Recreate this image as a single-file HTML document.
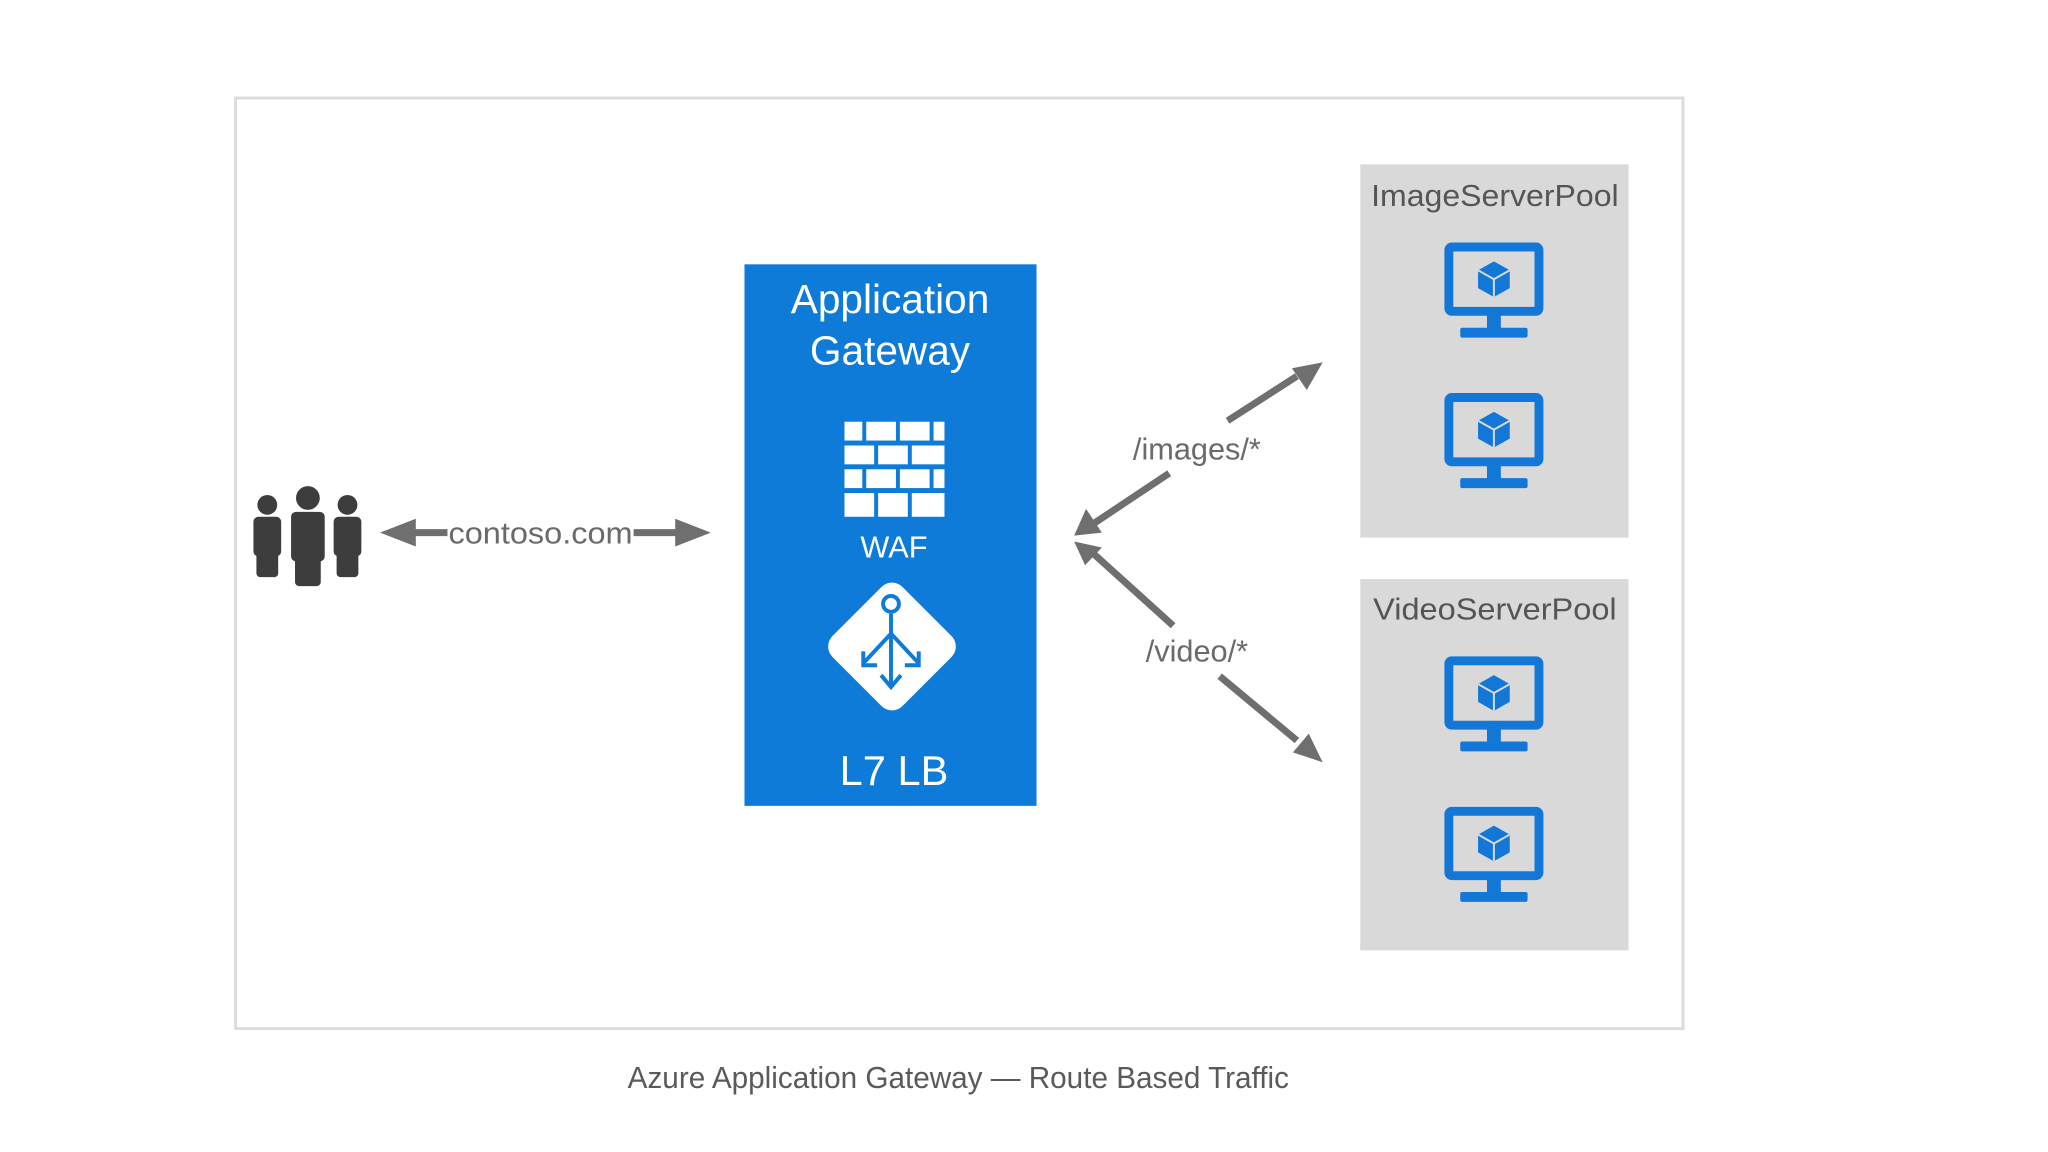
<!DOCTYPE html>
<html><head><meta charset="utf-8"><style>
html,body{margin:0;padding:0;background:#fff;}
svg{display:block;}
text{font-family:"Liberation Sans","DejaVu Sans",sans-serif;}
</style></head><body>
<svg width="2048" height="1152" viewBox="0 0 2048 1152" xmlns="http://www.w3.org/2000/svg">
<defs>
<g id="mon">
<rect x="4.5" y="4.5" width="91" height="65" rx="3" fill="none" stroke="#1277d6" stroke-width="9"/>
<rect x="43" y="72" width="14" height="16" fill="#1277d6"/>
<rect x="16" y="86" width="68" height="10" rx="2" fill="#1277d6"/>
<g transform="translate(50,37)">
<polygon points="0,-18 16,-9 16,9 0,18 -16,9 -16,-9" fill="#1277d6"/>
<polyline points="-16,-9 0,0 16,-9" fill="none" stroke="#d9d9d9" stroke-width="2"/>
<line x1="0" y1="0" x2="0" y2="18" stroke="#d9d9d9" stroke-width="2"/>
</g>
</g>
</defs>
<g transform="scale(0.99)">
<rect x="238" y="99" width="1462" height="940" fill="#fff" stroke="#dcdcdc" stroke-width="3"/>

<g fill="#3d3d3d">
<circle cx="270" cy="510" r="10"/><rect x="256" y="522" width="28" height="40" rx="5"/><rect x="259" y="555" width="22" height="28" rx="4"/>
<circle cx="311" cy="503" r="12"/><rect x="294" y="517" width="34" height="50" rx="5"/><rect x="298" y="555" width="26" height="37" rx="4"/>
<circle cx="351" cy="510" r="10"/><rect x="337" y="522" width="28" height="40" rx="5"/><rect x="340" y="555" width="22" height="28" rx="4"/>
</g>
<line x1="400" y1="538" x2="452" y2="538" stroke="#6f6f6f" stroke-width="7"/>
<polygon points="384,538 420,524 420,552" fill="#6f6f6f"/>
<line x1="640" y1="538" x2="695" y2="538" stroke="#6f6f6f" stroke-width="7"/>
<polygon points="718,538 682,524 682,552" fill="#6f6f6f"/>
<text x="546" y="549" font-size="31" fill="#6a6a6a" text-anchor="middle" textLength="186" lengthAdjust="spacingAndGlyphs">contoso.com</text>

<rect x="752" y="267" width="295" height="547" fill="#0f7bd8"/>
<text x="899" y="316" font-size="41" fill="#fff" text-anchor="middle">Application</text>
<text x="899" y="368" font-size="41" fill="#fff" text-anchor="middle">Gateway</text>
<g fill="#fff">
<rect x="853" y="426" width="18" height="19"/><rect x="875" y="426" width="30" height="19"/><rect x="909" y="426" width="30" height="19"/><rect x="943" y="426" width="11" height="19"/>
<rect x="853" y="450" width="30" height="19"/><rect x="887" y="450" width="30" height="19"/><rect x="921" y="450" width="33" height="19"/>
<rect x="853" y="474" width="18" height="19"/><rect x="875" y="474" width="30" height="19"/><rect x="909" y="474" width="30" height="19"/><rect x="943" y="474" width="11" height="19"/>
<rect x="853" y="498" width="30" height="24"/><rect x="887" y="498" width="30" height="24"/><rect x="921" y="498" width="33" height="24"/>
</g>
<text x="903" y="563" font-size="31" fill="#fff" text-anchor="middle">WAF</text>
<rect x="851" y="603" width="100" height="100" rx="15" fill="#fff" transform="rotate(45 901 653)"/>
<g stroke="#0f7bd8" stroke-width="4" fill="none">
<circle cx="900" cy="610" r="8"/>
<line x1="900" y1="620" x2="900" y2="692"/>
<line x1="900" y1="640" x2="872" y2="670"/><line x1="900" y1="640" x2="928" y2="670"/>
<polyline points="872,658 872,672 886,672"/><polyline points="928,658 928,672 914,672"/>
<polyline points="890,682 900,694 910,682"/>
</g>
<text x="903" y="793" font-size="42" fill="#fff" text-anchor="middle">L7 LB</text>

<g stroke="#6f6f6f" stroke-width="7" fill="none">
<line x1="1181" y1="478" x2="1100" y2="532"/>
<line x1="1240" y1="425" x2="1310" y2="380"/>
<line x1="1185" y1="632" x2="1102" y2="557"/>
<line x1="1232" y1="683" x2="1310" y2="748"/>
</g>
<polygon points="1085,541 1097,514 1113,538" fill="#6f6f6f"/>
<polygon points="1336,366 1320,394 1305,372" fill="#6f6f6f"/>
<polygon points="1085,547 1113,553 1096,571" fill="#6f6f6f"/>
<polygon points="1336,770 1306,760 1322,741" fill="#6f6f6f"/>
<text x="1209" y="464" font-size="31" fill="#6a6a6a" text-anchor="middle">/images/*</text>
<text x="1209" y="668" font-size="31" fill="#6a6a6a" text-anchor="middle">/video/*</text>

<rect x="1374" y="166" width="271" height="377" fill="#d9d9d9"/>
<rect x="1374" y="585" width="271" height="375" fill="#d9d9d9"/>
<text x="1510" y="208" font-size="31" fill="#555" text-anchor="middle" textLength="250" lengthAdjust="spacingAndGlyphs">ImageServerPool</text>
<text x="1510" y="626" font-size="31" fill="#555" text-anchor="middle" textLength="246" lengthAdjust="spacingAndGlyphs">VideoServerPool</text>
<use href="#mon" x="1459" y="245"/>
<use href="#mon" x="1459" y="397"/>
<use href="#mon" x="1459" y="663"/>
<use href="#mon" x="1459" y="815"/>

<text x="968" y="1099" font-size="31" fill="#5a5a5a" text-anchor="middle" textLength="668" lengthAdjust="spacingAndGlyphs">Azure Application Gateway — Route Based Traffic</text>
</g>
</svg>
</body></html>
